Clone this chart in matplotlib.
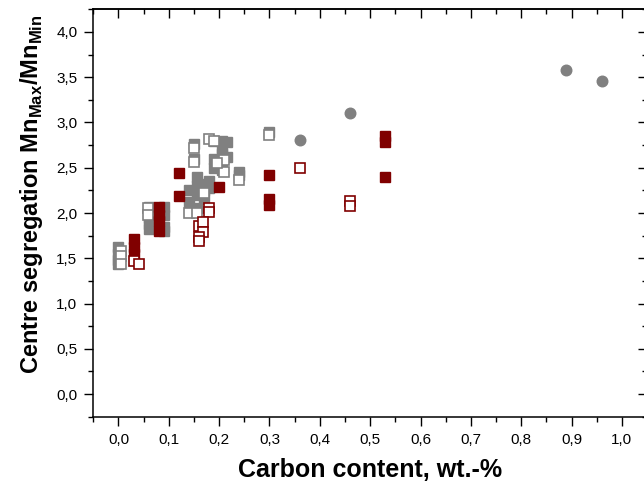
import matplotlib
matplotlib.use("Agg")
import matplotlib.pyplot as plt
from matplotlib.ticker import MultipleLocator, FuncFormatter

# --- DATA ---
gray_fill_x = [0.0, 0.0, 0.0, 0.0, 0.06, 0.06, 0.06, 0.06, 0.06, 0.09, 0.09, 0.09, 0.09,
               0.15, 0.15, 0.14, 0.14, 0.155, 0.155, 0.155, 0.155, 0.17, 0.17, 0.17, 0.18, 0.18,
               0.19, 0.19, 0.19, 0.205, 0.205, 0.205, 0.205, 0.215, 0.215, 0.24, 0.24, 0.30]
gray_fill_y = [1.62, 1.55, 1.48, 1.44, 2.07, 2.02, 1.95, 1.88, 1.82, 2.07, 1.98, 1.85, 1.80,
               2.76, 2.60, 2.25, 2.12, 2.40, 2.30, 2.20, 2.05, 2.32, 2.25, 2.15, 2.35, 2.28,
               2.80, 2.60, 2.50, 2.80, 2.72, 2.65, 2.48, 2.78, 2.62, 2.45, 2.42, 2.90]

gray_open_x = [0.005, 0.005, 0.005, 0.058, 0.058, 0.15, 0.15, 0.14, 0.155, 0.18, 0.19,
               0.17, 0.21, 0.21, 0.195, 0.24, 0.30]
gray_open_y = [1.58, 1.52, 1.44, 2.05, 1.98, 2.72, 2.56, 2.00, 2.00, 2.82, 2.80,
               2.22, 2.58, 2.45, 2.55, 2.37, 2.86]

red_fill_x = [0.03, 0.03, 0.03, 0.08, 0.08, 0.08, 0.08, 0.12, 0.12, 0.20,
              0.30, 0.30, 0.30, 0.53, 0.53, 0.53]
red_fill_y = [1.71, 1.63, 1.55, 2.07, 1.98, 1.91, 1.80, 2.44, 2.19, 2.29,
              2.42, 2.16, 2.09, 2.85, 2.78, 2.40]

red_open_x = [0.03, 0.04, 0.18, 0.18, 0.16, 0.168, 0.168, 0.16, 0.16, 0.36, 0.46, 0.46]
red_open_y = [1.47, 1.44, 2.05, 2.01, 1.86, 1.90, 1.79, 1.74, 1.69, 2.50, 2.13, 2.08]

circle_x = [0.36, 0.46, 0.89, 0.96]
circle_y = [2.81, 3.11, 3.58, 3.46]

GRAY = "#808080"
RED = "#800000"

plt.rcParams["font.family"] = ["Liberation Sans", "DejaVu Sans"]
plt.rcParams["mathtext.fontset"] = "custom"
plt.rcParams["mathtext.rm"] = "Liberation Sans:bold"
plt.rcParams["mathtext.bf"] = "Liberation Sans:bold"

fig = plt.figure(figsize=(6.44, 4.84), dpi=100)
ax = fig.add_axes([0.1449, 0.139, 1.0047 - 0.1449, 0.9808 - 0.139])

ms = 7.8
ax.plot(gray_fill_x, gray_fill_y, "s", ms=ms, mfc=GRAY, mec=GRAY, mew=1.0, ls="none", zorder=3)
ax.plot(gray_open_x, gray_open_y, "s", ms=ms, mfc="white", mec=GRAY, mew=1.2, ls="none", zorder=4)
ax.plot(red_fill_x, red_fill_y, "s", ms=ms, mfc=RED, mec=RED, mew=1.0, ls="none", zorder=5)
ax.plot(red_open_x, red_open_y, "s", ms=ms, mfc="white", mec=RED, mew=1.2, ls="none", zorder=6)
ax.plot(circle_x, circle_y, "o", ms=7.6, mfc=GRAY, mec=GRAY, ls="none", zorder=7)

ax.set_xlim(-0.05, 1.05)
ax.set_ylim(-0.25, 4.25)

comma = FuncFormatter(lambda v, p: f"{v:.1f}".replace(".", ","))
ax.xaxis.set_major_locator(MultipleLocator(0.1))
ax.xaxis.set_minor_locator(MultipleLocator(0.05))
ax.yaxis.set_major_locator(MultipleLocator(0.5))
ax.yaxis.set_minor_locator(MultipleLocator(0.25))
ax.xaxis.set_major_formatter(comma)
ax.yaxis.set_major_formatter(comma)
ax.tick_params(which="major", direction="out", length=6.5, width=1.0, labelsize=11, pad=5)
ax.tick_params(which="minor", direction="out", length=3.5, width=1.0)

# top and right ticks point inward
top = ax.secondary_xaxis("top")
top.xaxis.set_major_locator(MultipleLocator(0.1))
top.xaxis.set_minor_locator(MultipleLocator(0.05))
top.tick_params(which="major", direction="in", length=6.5, width=1.0, labeltop=False)
top.tick_params(which="minor", direction="in", length=3.5, width=1.0)
right = ax.secondary_yaxis("right")
right.yaxis.set_major_locator(MultipleLocator(0.5))
right.yaxis.set_minor_locator(MultipleLocator(0.25))
right.tick_params(which="major", direction="in", length=6.5, width=1.0, labelright=False)
right.tick_params(which="minor", direction="in", length=3.5, width=1.0)

for s in ax.spines.values():
    s.set_linewidth(1.1)
top.spines["top"].set_linewidth(1.1)
right.spines["right"].set_linewidth(1.1)

ax.set_xlabel("Carbon content, wt.-%", fontsize=18, fontweight="bold", labelpad=8)
ax.set_ylabel(r"Centre segregation Mn$_{\mathrm{Max}}$/Mn$_{\mathrm{Min}}$",
              fontsize=17, fontweight="bold")
ax.yaxis.set_label_coords(-0.088, 0.545)

fig.savefig("out.png", dpi=100)
